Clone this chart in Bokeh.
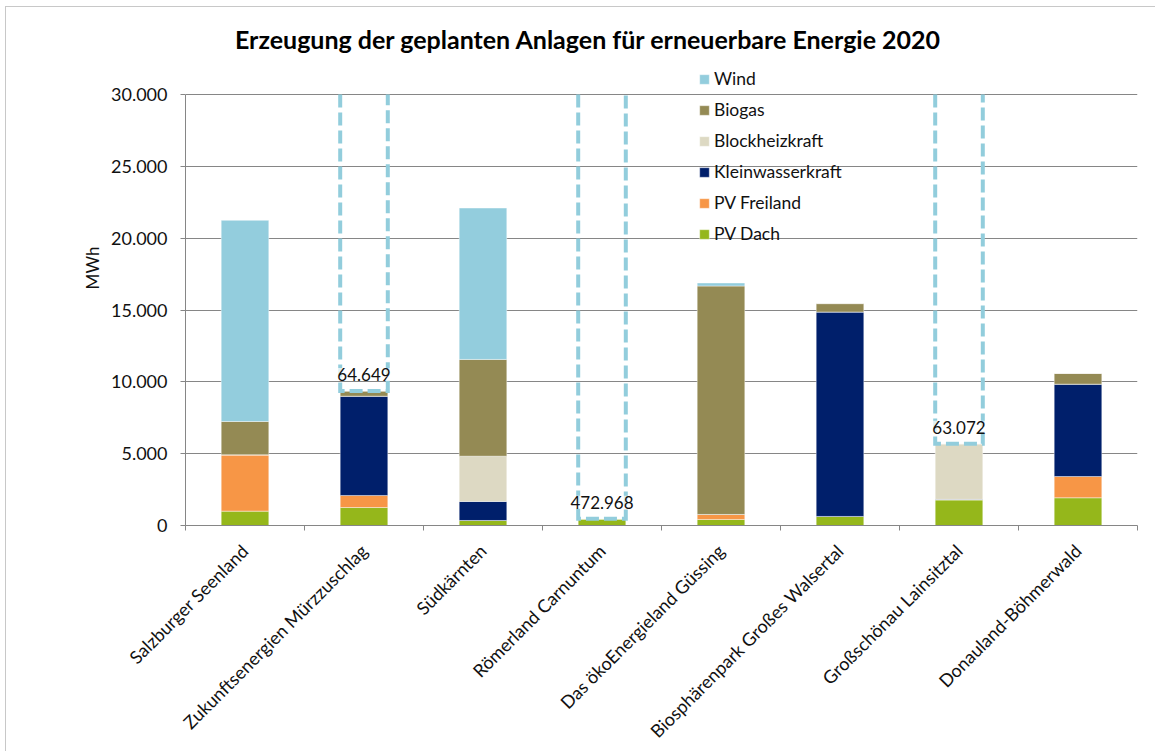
import math
from bokeh.plotting import figure
from bokeh.models import (ColumnDataSource, Range1d, FixedTicker, Legend,
                          LegendItem, LabelSet, Label)
from bokeh.core.properties import value
from bokeh.embed import file_html
from bokeh.resources import INLINE

# ---------------- data ----------------
categories = [
    "Salzburger Seenland",
    "Zukunftsenergien Mürzzuschlag",
    "Südkärnten",
    "Römerland Carnuntum",
    "Das ökoEnergieland Güssing",
    "Biosphärenpark Großes Walsertal",
    "Großschönau Lainsitztal",
    "Donauland-Böhmerwald",
]
pv_dach = [1000, 1250, 350, 470, 420, 630, 1790, 1930]
pv_freiland = [3920, 840, 0, 0, 350, 0, 0, 1480]
kleinwasserkraft = [0, 6910, 1320, 0, 0, 14230, 30, 6430]
blockheizkraft = [0, 0, 3155, 0, 0, 0, 3870, 0]
biogas = [2320, 355, 6735, 0, 15900, 585, 0, 745]
wind = [14000, 55294, 10536, 472498, 210, 0, 57382, 0]
# bars whose total is far beyond the axis (drawn as dashed "broken" bar)
broken = [False, True, False, True, False, False, True, False]

y_ticks = [0, 5000, 10000, 15000, 20000, 25000, 30000]
y_tick_labels = ["0", "5.000", "10.000", "15.000", "20.000", "25.000", "30.000"]

series_names = ["PV Dach", "PV Freiland", "Kleinwasserkraft",
                "Blockheizkraft", "Biogas", "Wind"]
series_colors = ["#95B71B", "#F79646", "#001F6B", "#DDD9C3", "#948A54", "#93CDDD"]

title_text = "Erzeugung der geplanten Anlagen für erneuerbare Energie 2020"
FONT = "Lato"


def de_fmt(v):
    return f"{int(round(v)):,}".replace(",", ".")


# ---------------- layout constants (pixels) ----------------
W, H = 1150, 745
B_LEFT, B_RIGHT, B_TOP, B_BOTTOM = 179, 19, 3, 227
AXIS_PX = 431.0                      # pixel height of the 0..30000 axis
frame_h = H - B_TOP - B_BOTTOM
y_axis_max = y_ticks[-1]
y_top = y_axis_max * frame_h / AXIS_PX

# ---------------- derived ----------------
n = len(categories)
xs = [i + 0.5 for i in range(n)]
bar_w = 0.4
wind_solid = [0 if b else w for w, b in zip(wind, broken)]
stackers = ["pv_dach", "pv_freiland", "klein", "bhkw", "biogas", "wind_solid"]
src = ColumnDataSource(dict(x=xs, pv_dach=pv_dach, pv_freiland=pv_freiland,
                            klein=kleinwasserkraft, bhkw=blockheizkraft,
                            biogas=biogas, wind_solid=wind_solid))

base = [a + b + c + d + e for a, b, c, d, e in
        zip(pv_dach, pv_freiland, kleinwasserkraft, blockheizkraft, biogas)]
bx, bb, bl, lxs, lys = [], [], [], [], []
for i in range(n):
    if broken[i]:
        total = base[i] + wind[i]
        top = min(total, y_axis_max)
        bx.append(xs[i])
        bb.append(base[i])
        bl.append(de_fmt(total))
        lxs.append([xs[i] - bar_w / 2, xs[i] - bar_w / 2,
                    xs[i] + bar_w / 2, xs[i] + bar_w / 2])
        lys.append([top, base[i], base[i], top])
bsrc = ColumnDataSource(dict(x=bx, bottom=bb, label=bl))

# ---------------- figure ----------------
p = figure(width=W, height=H,
           x_range=Range1d(0, n), y_range=Range1d(0, y_top),
           output_backend="svg", toolbar_location=None,
           min_border_left=B_LEFT, min_border_right=B_RIGHT,
           min_border_top=B_TOP, min_border_bottom=B_BOTTOM)
p.background_fill_color = "white"
p.border_fill_color = "white"
p.outline_line_color = None

p.ygrid.ticker = FixedTicker(ticks=y_ticks)
p.ygrid.grid_line_color = "#868686"
p.ygrid.grid_line_width = 1
p.xgrid.visible = False

renderers = p.vbar_stack(stackers, x="x", width=bar_w, source=src,
                         fill_color=series_colors, line_color="white",
                         line_width=0.6, line_alpha=0.7)

p.multi_line(xs=lxs, ys=lys, line_color="#92CDDC", line_width=4,
             line_dash="13 5", line_join="miter")

labels = LabelSet(x="x", y="bottom", text="label", source=bsrc,
                  text_align="center", text_baseline="bottom",
                  y_offset=10, text_font=value(FONT), text_font_size="17px",
                  text_color="#111111",
                  background_fill_color="white", background_fill_alpha=0.7)
p.add_layout(labels)

# title (inside the tall frame, above the 30.000 line)
title = Label(x=(588 - 185) / 119.0, y=y_axis_max * (525 - 38) / AXIS_PX,
              text=title_text, text_align="center", text_baseline="middle",
              text_font=FONT, text_font_size="25px", text_font_style="bold",
              text_color="#000000")
p.add_layout(title)

# axes
p.yaxis.ticker = FixedTicker(ticks=y_ticks)
p.yaxis.bounds = (0, y_axis_max)
p.yaxis.major_label_overrides = dict(zip(y_ticks, y_tick_labels))
p.yaxis.axis_label = "MWh"
p.yaxis.axis_label_text_font = FONT
p.yaxis.axis_label_text_font_style = "normal"
p.yaxis.axis_label_text_font_size = "17px"
p.yaxis.axis_label_text_color = "#111111"
p.yaxis.axis_label_standoff = 5
p.yaxis.major_label_text_font = FONT
p.yaxis.major_label_text_font_size = "18px"
p.yaxis.major_label_text_color = "#111111"
p.yaxis.major_label_standoff = 13
p.yaxis.major_tick_out = 5
p.yaxis.major_tick_in = 0
p.yaxis.minor_tick_line_color = None
p.yaxis.axis_line_color = "#868686"
p.yaxis.major_tick_line_color = "#868686"

p.xaxis.ticker = FixedTicker(ticks=xs, minor_ticks=list(range(n + 1)))
p.xaxis.major_label_overrides = dict(zip(xs, categories))
p.xaxis.major_label_orientation = math.pi / 4
p.xaxis.major_label_text_font = FONT
p.xaxis.major_label_text_font_size = "18px"
p.xaxis.major_label_text_color = "#111111"
p.xaxis.major_label_standoff = 17
p.xaxis.major_tick_line_color = None
p.xaxis.major_tick_out = 0
p.xaxis.major_tick_in = 0
p.xaxis.minor_tick_out = 5
p.xaxis.minor_tick_in = 0
p.xaxis.minor_tick_line_color = "#868686"
p.xaxis.axis_line_color = "#868686"

# legend (top entry = top of stack)
items = [LegendItem(label=name, renderers=[r])
         for name, r in reversed(list(zip(series_names, renderers)))]
legend = Legend(items=items, location=(513, 281), orientation="vertical",
                padding=0, margin=0, spacing=10,
                glyph_width=12, glyph_height=12, label_height=20,
                label_standoff=4, label_text_font=FONT,
                label_text_font_size="17.5px", label_text_color="#111111",
                border_line_color=None, background_fill_alpha=0)
p.add_layout(legend)

p.styles = {"margin-left": "5px", "margin-top": "6px",
            "border-left": "1px solid #C8C8C8", "border-top": "1px solid #C8C8C8"}

open("out.html", "w").write(file_html(p, INLINE))
